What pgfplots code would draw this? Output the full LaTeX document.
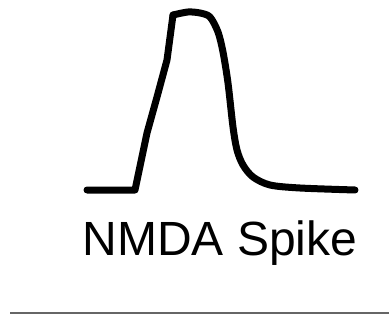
\documentclass[border=0pt]{standalone}
\usepackage{pgfplots}
\pgfplotsset{compat=1.18}
\usepackage{fontspec}
\setmainfont{Liberation Sans}
\begin{document}
\begin{tikzpicture}
\begin{axis}[
  width=389pt, height=317pt, scale only axis,
  xmin=0, xmax=389, ymin=0, ymax=317,
  hide axis, clip=false,
]
\addplot[black, line width=7pt, line join=round, line cap=round] coordinates {
(87,127) (135,127) (147,184) (157,220) (167,257) (173,302)
};
\addplot[black, line width=7pt, line join=round, line cap=round, smooth, tension=0.5] coordinates {
(173,302) (188,305) (200,304) (210,300) (218,285) (223,265) (228,234) (233,190) (237,167) (243,152) (253,140) (270,132) (300,129) (355,127)
};
\addplot[gray!80!black, line width=1.3pt] coordinates {(10,4) (389,4)};
\node[anchor=base, font=\fontsize{48}{52}\selectfont] at (axis cs:220,62) {NMDA Spike};
\end{axis}
\pgfresetboundingbox
\useasboundingbox (current axis.south west) rectangle (current axis.north east);
\end{tikzpicture}
\end{document}
